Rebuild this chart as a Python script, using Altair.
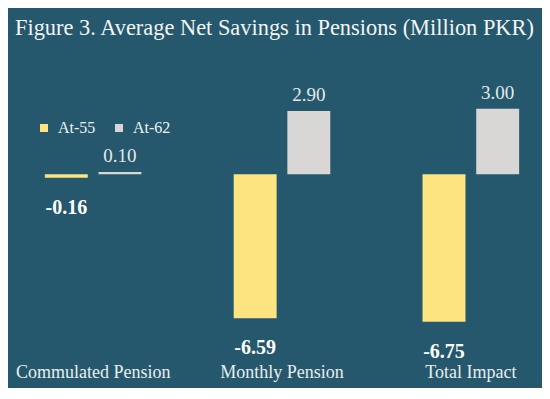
import altair as alt
import pandas as pd

title_text = "Figure 3. Average Net Savings in Pensions (Million PKR)"
categories = ["Commulated Pension", "Monthly Pension", "Total Impact"]
series = ["At-55", "At-62"]
at55 = [-0.16, -6.59, -6.75]
at62 = [0.10, 2.90, 3.00]

BG = "#25586c"
YELLOW = "#fde481"
GREY = "#d9d7d6"
FONT = "Liberation Serif"

rows = []
for c, a, b in zip(categories, at55, at62):
    rows.append({"category": c, "series": "At-55", "value": a, "label": f"{a:.2f}"})
    rows.append({"category": c, "series": "At-62", "value": b, "label": f"{b:.2f}"})
df = pd.DataFrame(rows)

x = alt.X(
    "category:N",
    sort=categories,
    scale=alt.Scale(paddingInner=0.4885, paddingOuter=0.1157),
    axis=alt.Axis(
        title=None, labelAngle=0, domain=False, ticks=False, tickSize=0, grid=False,
        labelPadding=14, labelBaseline="middle", labelFontSize=18, labelFont=FONT,
        labelColor="#e8eef0",
    ),
)
xo = alt.XOffset("series:N", sort=series, scale=alt.Scale(paddingInner=0.2, paddingOuter=0))
y = alt.Y("value:Q", scale=alt.Scale(domain=[-8.407, 5.323], nice=False, zero=False), axis=None)

base = alt.Chart(df).encode(x=x, xOffset=xo, y=y)

bars = base.mark_bar().encode(
    color=alt.Color(
        "series:N",
        sort=series,
        scale=alt.Scale(domain=series, range=[YELLOW, GREY]),
        legend=alt.Legend(
            title=None, orient="none", legendX=13, legendY=62, direction="horizontal",
            symbolType="square", symbolSize=64, symbolStrokeWidth=0,
            labelFontSize=16, labelFont=FONT, labelColor="#eef2f3",
            labelOffset=6, columnPadding=15,
        ),
    )
)

pos_labels = base.transform_filter("datum.value >= 0").mark_text(
    baseline="middle", dy=-16, fontSize=19, font=FONT, color="#e4e8ea"
).encode(text="label:N")

neg_labels = base.transform_filter("datum.value < 0").mark_text(
    baseline="middle", dy=30, fontSize=20, font=FONT, fontWeight="bold", color="#ffffff"
).encode(text="label:N")

title = alt.Chart(pd.DataFrame({"t": [title_text]})).mark_text(
    align="left", baseline="alphabetic", fontSize=22.4, font=FONT, color="#f3f5f6"
).encode(x=alt.value(-8), y=alt.value(-23), text="t:N")

chart = (
    alt.layer(bars, pos_labels, neg_labels, title)
    .properties(
        width=518,
        height=300,
        background=BG,
        padding={"left": 15, "top": 50, "right": 1, "bottom": 30},
        autosize=alt.AutoSizeParams(type="none"),
    )
    .configure_view(stroke=None)
)

chart.save("out.html", embed_options={"renderer": "svg", "actions": False})
